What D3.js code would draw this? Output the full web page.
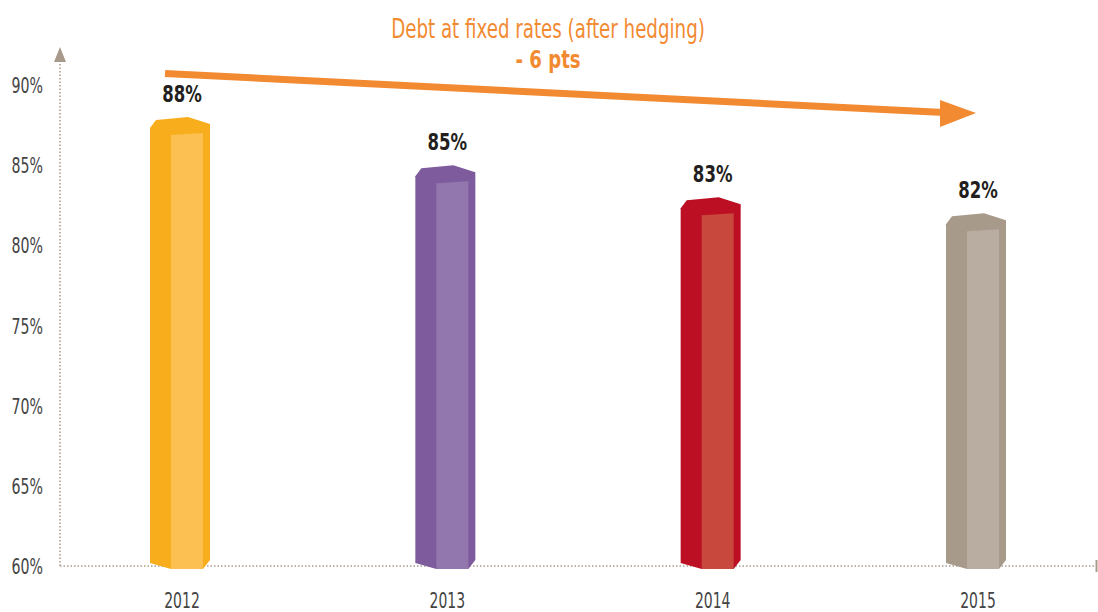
<!DOCTYPE html>
<html>
<head>
<meta charset="utf-8">
<script src="https://cdn.jsdelivr.net/npm/d3@7"></script>
<style>
  html, body { margin: 0; padding: 0; background: #fff; }
  svg { display: block; }
  text { font-family: "DejaVu Sans Condensed", "DejaVu Sans", sans-serif; }
</style>
</head>
<body>
<svg id="chart" width="1098" height="612"></svg>
<script>
// Share of debt at fixed rates after hedging, by year
const years = ["2012", "2013", "2014", "2015"];
const values = [88, 85, 83, 82];
const valueLabels = ["88%", "85%", "83%", "82%"];
const outerColors = ["#F8AE1C", "#7E5B9C", "#BC0F24", "#A89A8B"];
const innerColors = ["#FCC052", "#9277AE", "#C8483D", "#B9ACA0"];
const yTicks = [60, 65, 70, 75, 80, 85, 90];
const titleLine = "Debt at fixed rates (after hedging)";
const changeLine = "- 6 pts";

const svg = d3.select("#chart");
const axisColor = "#A89A8B";
const orange = "#F28A32";

const y = d3.scaleLinear().domain([60, 90]).range([566, 85]);
const x = d3.scalePoint().domain(years).range([180, 976]);

// narrow-set text: squeeze horizontally around its anchor point
function narrow(sel, px, py, sx) {
  return sel.attr("x", 0).attr("y", 0)
    .attr("transform", (d, i) => `translate(${px(d, i)},${py(d, i)}) scale(${sx},1)`);
}

// y axis: dotted line with an arrow head on top
svg.append("line")
  .attr("x1", 60).attr("x2", 60).attr("y1", y(60)).attr("y2", 60)
  .attr("stroke", axisColor).attr("stroke-width", 1.5).attr("stroke-dasharray", "1.5,2");
svg.append("path")
  .attr("d", "M60,47 L66,62 L54,62 Z")
  .attr("fill", axisColor);

// x axis: dotted baseline with a closing tick
svg.append("line")
  .attr("x1", 60).attr("x2", 1096).attr("y1", y(60)).attr("y2", y(60))
  .attr("stroke", axisColor).attr("stroke-width", 1.5).attr("stroke-dasharray", "1.5,2");
svg.append("line")
  .attr("x1", 1096.5).attr("x2", 1096.5).attr("y1", y(60) - 6).attr("y2", y(60) + 6)
  .attr("stroke", axisColor).attr("stroke-width", 2);

// tick labels
narrow(svg.append("g").selectAll("text")
  .data(yTicks).join("text")
  .attr("text-anchor", "end")
  .attr("fill", "#444")
  .attr("font-size", 21)
  .text(d => d + "%"), () => 43, d => y(d) + 8, 0.75);

narrow(svg.append("g").selectAll("text")
  .data(years).join("text")
  .attr("text-anchor", "middle")
  .attr("fill", "#444")
  .attr("font-size", 21)
  .text(d => d), d => x(d) + 2, () => 608, 0.74);

// prism-shaped bars
const barW = 60;
const base = y(60) + 3;
const bars = svg.append("g").selectAll("g")
  .data(years.map((yr, i) => ({ yr, v: values[i], i })))
  .join("g");

bars.append("path")
  .attr("fill", d => outerColors[d.i])
  .attr("d", d => {
    const L = x(d.yr) - barW / 2, T = y(d.v);
    return `M${L},${T + 11} L${L + 6},${T + 3} L${L + 38},${T} L${L + barW},${T + 7}` +
      ` L${L + barW},${base - 9} L${L + 53},${base} L${L + 21},${base} L${L},${base - 6} Z`;
  });

bars.append("path")
  .attr("fill", d => innerColors[d.i])
  .attr("d", d => {
    const L = x(d.yr) - barW / 2, T = y(d.v);
    return `M${L + 21},${T + 18} L${L + 53},${T + 16} L${L + 53},${base} L${L + 21},${base} Z`;
  });

narrow(bars.append("text")
  .attr("text-anchor", "middle")
  .attr("fill", "#231f20")
  .attr("font-size", 23)
  .attr("font-weight", "bold")
  .text(d => valueLabels[d.i]), d => x(d.yr) + 2, d => y(d.v) - 15, 0.8);

// trend arrow
svg.append("line")
  .attr("x1", 165).attr("y1", 73.5).attr("x2", 944).attr("y2", 112.5)
  .attr("stroke", orange).attr("stroke-width", 7);
svg.append("path")
  .attr("d", "M940,100 L976,113 L940,127 Z")
  .attr("fill", orange);

// headline
narrow(svg.append("text")
  .attr("text-anchor", "middle")
  .attr("fill", orange)
  .attr("font-size", 26)
  .text(titleLine), () => 548, () => 38, 0.78);
narrow(svg.append("text")
  .attr("text-anchor", "middle")
  .attr("fill", orange)
  .attr("font-size", 24)
  .attr("font-weight", "bold")
  .text(changeLine), () => 548, () => 68, 0.84);
</script>
</body>
</html>
